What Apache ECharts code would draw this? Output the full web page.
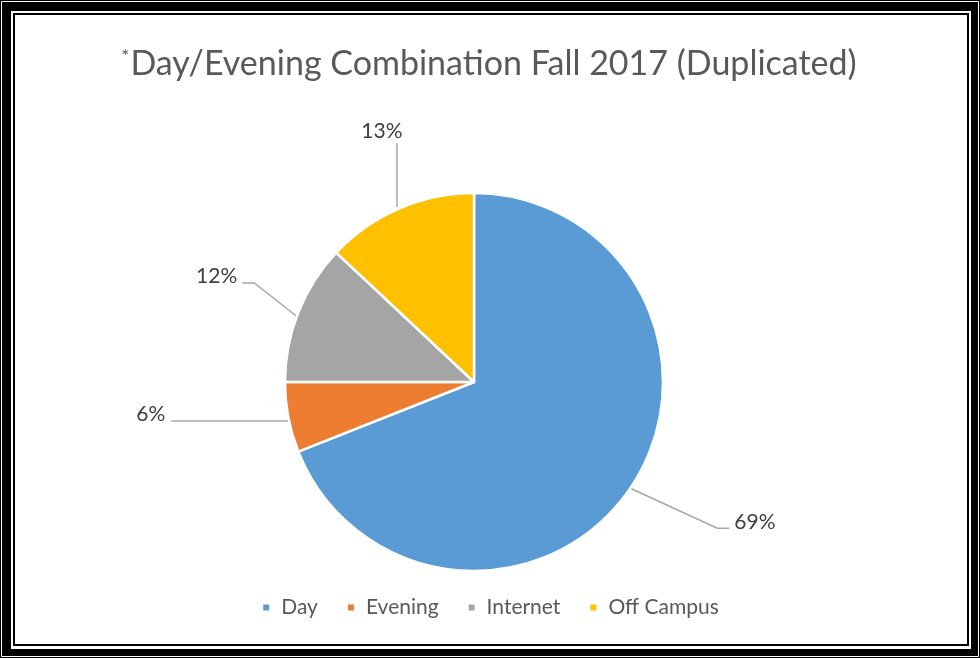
<!DOCTYPE html>
<html>
<head>
<meta charset="utf-8">
<script src="https://cdn.jsdelivr.net/npm/echarts@6/dist/echarts.min.js"></script>
<style>
html,body{margin:0;padding:0;background:#fff;}
#chart{width:980px;height:658px;}
</style>
</head>
<body>
<div id="chart"></div>
<script>
const categories = ['Day', 'Evening', 'Internet', 'Off Campus'];
const values = [69, 6, 12, 13];
const colors = ['#5B9BD5', '#ED7D31', '#A5A5A5', '#FFC000'];
const titleMain = 'Day/Evening Combination Fall 2017 (Duplicated)';
const titleMark = '*';

const chart = echarts.init(document.getElementById('chart'));
const FONT = 'Lato, "Open Sans", sans-serif';

// label placement relative to the slice edge point computed by ECharts
function placeLabel(params) {
  const pts = params.labelLinePoints;
  if (!pts) return {};
  const o = pts[0];
  const x = o[0], y = o[1];
  switch (params.dataIndex) {
    case 0:
      return {
        x: x + 104, y: y + 34, align: 'left', verticalAlign: 'middle',
        labelLinePoints: [[x, y], [x + 87, y + 40], [x + 99, y + 40]]
      };
    case 1:
      return {
        x: x - 123, y: y - 3.5, align: 'right', verticalAlign: 'middle',
        labelLinePoints: [[x, y + 3.5], [x - 60, y + 3.5], [x - 117, y + 3.5]]
      };
    case 2:
      return {
        x: x - 61, y: y - 36, align: 'right', verticalAlign: 'middle',
        labelLinePoints: [[x - 2, y + 3.6], [x - 44, y - 29.4], [x - 56, y - 29.4]]
      };
    case 3:
      return {
        x: x - 17, y: y - 77.5, align: 'center', verticalAlign: 'middle',
        labelLinePoints: [[x - 2, y - 1.5], [x - 2, y - 33], [x - 2, y - 65.5]]
      };
  }
  return {};
}

chart.setOption({
  backgroundColor: '#fff',
  animation: false,
  graphic: [
    { type: 'rect', silent: true, z: -10, shape: { x: 0, y: 0, width: 980, height: 658 }, style: { fill: '#000' } },
    { type: 'rect', silent: true, z: -9, shape: { x: 1.5, y: 1.5, width: 977, height: 655 }, style: { fill: null, stroke: '#fff', lineWidth: 1 } },
    { type: 'rect', silent: true, z: -8, shape: { x: 11, y: 11, width: 960, height: 638 }, style: { fill: '#fff' } },
    { type: 'rect', silent: true, z: -7, shape: { x: 14, y: 14, width: 954, height: 631 }, style: { fill: null, stroke: '#000', lineWidth: 2 } }
  ],
  title: {
    text: '{m|' + titleMark + '}{t|' + titleMain + '}',
    left: 484,
    textAlign: 'center',
    top: 42,
    textStyle: {
      fontWeight: 'normal',
      rich: {
        m: { fontFamily: FONT, fontSize: 19, fontWeight: 'normal', color: '#595959', verticalAlign: 'top', padding: [0, 1, 15, 0] },
        t: { fontFamily: FONT, fontSize: 34, fontWeight: 'normal', color: '#595959' }
      }
    }
  },
  legend: {
    top: 592,
    left: 'center',
    icon: 'rect',
    itemWidth: 8,
    itemHeight: 8,
    itemGap: 28,
    textStyle: { fontFamily: FONT, fontSize: 21, color: '#595959', padding: [0, 0, 0, 6] },
    data: categories
  },
  series: [{
    type: 'pie',
    center: [474, 382],
    radius: 189,
    startAngle: 90,
    clockwise: true,
    itemStyle: { borderColor: '#fff', borderWidth: 2.5 },
    label: {
      show: true,
      position: 'outside',
      formatter: '{d}%',
      fontFamily: FONT,
      fontSize: 21,
      color: '#404040'
    },
    labelLine: { show: true, length: 30, length2: 10, lineStyle: { color: '#A6A6A6', width: 1.5 } },
    labelLayout: placeLabel,
    data: categories.map((c, i) => ({
      name: c,
      value: values[i],
      itemStyle: { color: colors[i] }
    }))
  }]
});
</script>
</body>
</html>
